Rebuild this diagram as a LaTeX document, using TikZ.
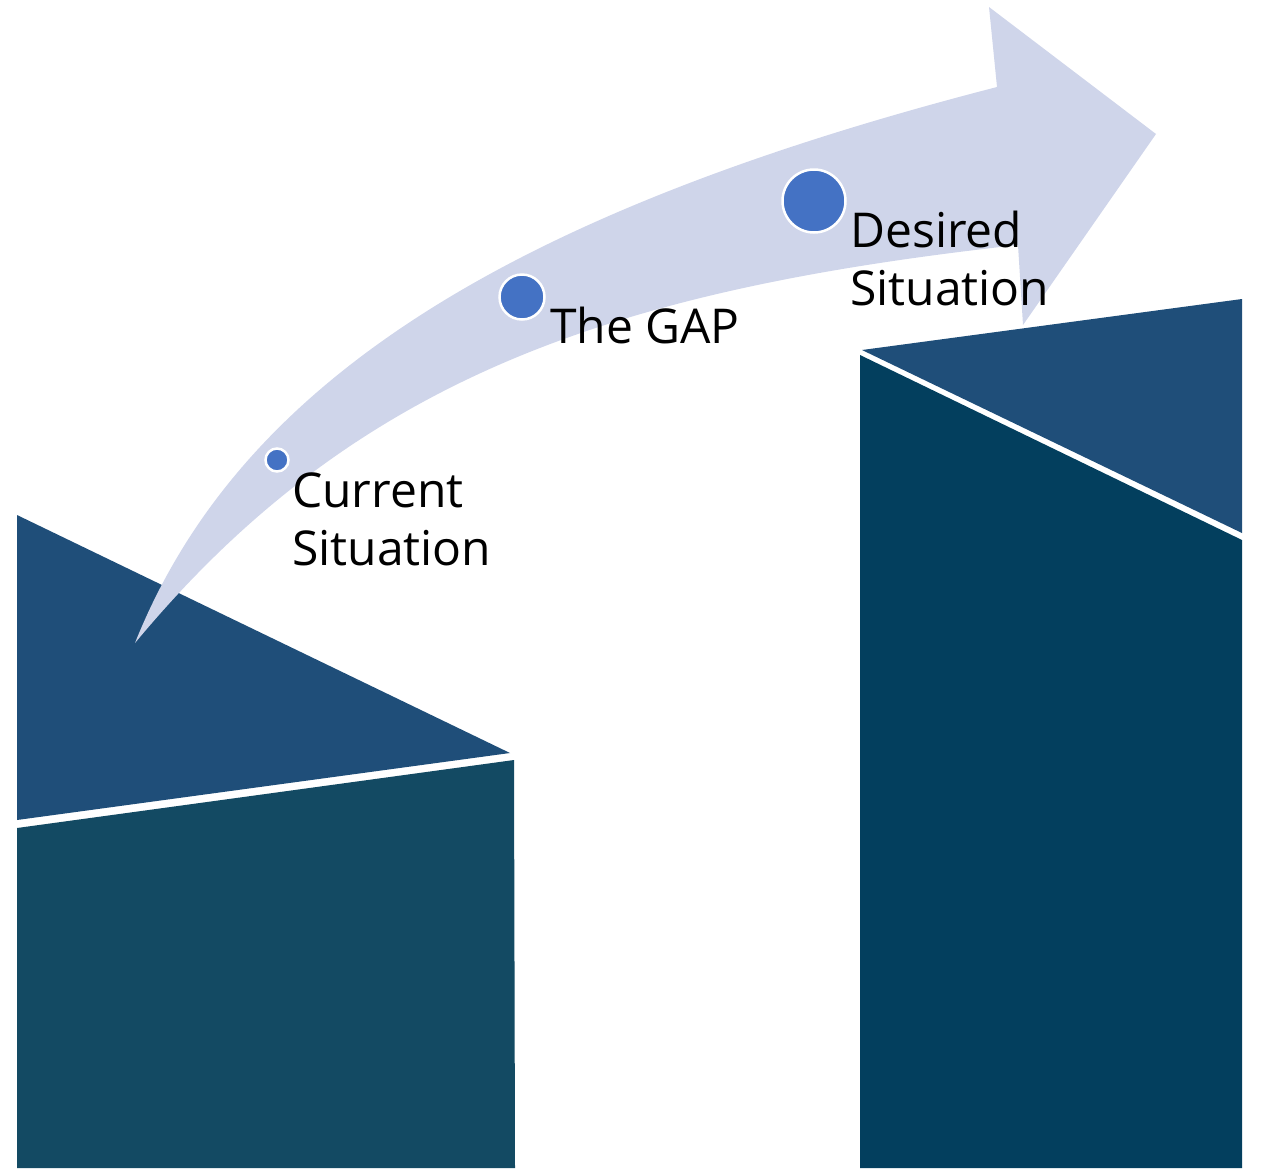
\documentclass[tikz,border=0pt]{standalone}
\usepackage{fontspec}
\setmainfont{Open Sans}
\definecolor{arrowfill}{HTML}{CFD5EA}
\definecolor{dotblue}{HTML}{4472C4}
\definecolor{topblue}{HTML}{1F4E79}
\definecolor{leftlow}{HTML}{134A63}
\definecolor{rightlow}{HTML}{033F5E}
\tikzset{
  dot/.style={circle, fill=dotblue, draw=white, line width=2.5pt, inner sep=0pt},
  lbl/.style={inner sep=0pt, align=left, text=black, font=\fontsize{48}{58}\selectfont}
}
\begin{document}
\begin{tikzpicture}[x=1pt,y=-1pt]
\useasboundingbox (0,0) rectangle (1261,1168);
% left block
\fill[topblue] (17,515) -- (510,753) -- (17,820) -- cycle;
\fill[leftlow] (17,828) -- (514,760) -- (515,1168) -- (17,1168) -- cycle;
% right block
\fill[topblue] (862,350) -- (1242,299) -- (1242,533) -- cycle;
\fill[rightlow] (860,355) -- (1242,540) -- (1242,1168) -- (860,1168) -- cycle;
% curved arrow
\fill[arrowfill]
  (135,643) .. controls (240,380) and (512,212) .. (997,87)
  -- (989,7) -- (1156,134) -- (1023,325) -- (1018,245)
  .. controls (622,289) and (359,373) .. (135,643) -- cycle;
% dots
\node[dot, minimum size=23pt] (d1) at (277,460) {};
\node[dot, minimum size=45pt] (d2) at (522,297) {};
\node[dot, minimum size=63pt] (d3) at (814,201) {};
% labels (base = last line's baseline)
\node[lbl, anchor=base west] (t1) at (292,565) {Current\\Situation};
\node[lbl, anchor=base west] (t2) at (550,343) {The GAP};
\node[lbl, anchor=base west] (t3) at (850,305) {Desired\\Situation};
\end{tikzpicture}
\end{document}
